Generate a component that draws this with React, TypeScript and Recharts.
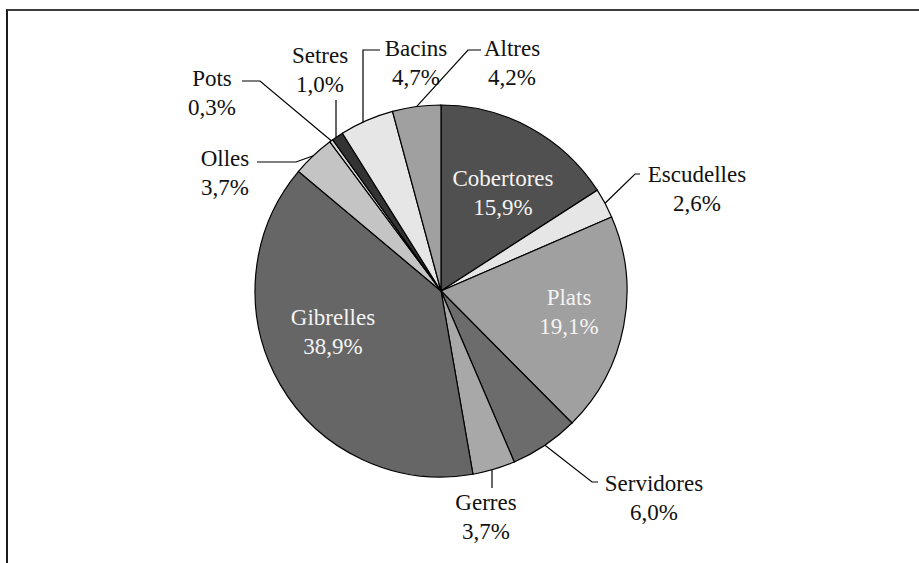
import { PieChart, Pie, Cell } from 'recharts';

const categories = ['Cobertores', 'Escudelles', 'Plats', 'Servidores', 'Gerres', 'Gibrelles', 'Olles', 'Pots', 'Setres', 'Bacins', 'Altres'];
const shares = [15.9, 2.6, 19.1, 6.0, 3.7, 38.9, 3.7, 0.3, 1.0, 4.7, 4.2];
const sliceColors = ['#505050', '#e6e6e6', '#a0a0a0', '#6c6c6c', '#a8a8a8', '#666666', '#c4c4c4', '#d8d8d8', '#333333', '#e6e6e6', '#a0a0a0'];

const data = categories.map((name, i) => ({ name, value: shares[i] }));

const RAD = Math.PI / 180;
const FONT = "'Liberation Serif', 'Times New Roman', serif";
const LINE_GAP = 29;

type Layout = {
  text: [number, number];
  path?: [number, number][];
  vertical?: boolean;
  inside?: boolean;
};

// label placement, relative to the pie centre
const labelLayout: Record<string, Layout> = {
  Cobertores: { text: [62, -105], inside: true },
  Plats: { text: [128, 14], inside: true },
  Gibrelles: { text: [-108, 34], inside: true },
  Escudelles: { text: [256, -109], path: [[194, -117], [199, -117]] },
  Servidores: { text: [213, 200], path: [[151, 191], [157, 191]] },
  Gerres: { text: [45, 219], path: [[51, 197]], vertical: true },
  Olles: { text: [-216, -125], path: [[-145, -129], [-184, -129]] },
  Pots: { text: [-229, -205], path: [[-181, -210], [-199, -210]] },
  Setres: { text: [-121, -228], path: [[-105, -191]], vertical: true },
  Bacins: { text: [-25, -235], path: [[-78, -241], [-61, -241]], vertical: true },
  Altres: { text: [71, -235], path: [[27, -241], [40, -241]] },
};

const fmt = (v: number) => v.toFixed(1).replace('.', ',') + '%';

function renderLabel(props: any) {
  const { cx, cy, midAngle, outerRadius, name, value } = props;
  const lay = labelLayout[name];
  if (!lay) return null;
  const tx = cx + lay.text[0];
  const ty = cy + lay.text[1];
  const color = lay.inside ? '#f4f4f4' : '#111';
  const textStyle = { fontFamily: FONT, fontSize: 23, fill: color };

  let line = null;
  if (lay.path) {
    let sx: number;
    let sy: number;
    if (lay.vertical) {
      const ex = lay.path[0][0];
      const h = Math.sqrt(outerRadius * outerRadius - ex * ex);
      sx = cx + ex;
      sy = cy + (lay.path[0][1] < 0 ? -h : h);
    } else {
      sx = cx + outerRadius * Math.cos(-midAngle * RAD);
      sy = cy + outerRadius * Math.sin(-midAngle * RAD);
    }
    const pts = [[sx, sy], ...lay.path.map(([px, py]) => [cx + px, cy + py])];
    line = <polyline points={pts.map((p) => p.join(',')).join(' ')} fill="none" stroke="#000" strokeWidth={1.2} />;
  }

  return (
    <g>
      {line}
      <text x={tx} y={ty} textAnchor="middle" style={textStyle}>
        {name}
      </text>
      <text x={tx} y={ty + LINE_GAP} textAnchor="middle" style={textStyle}>
        {fmt(value)}
      </text>
    </g>
  );
}

export default function App() {
  return (
    <div
      style={{
        position: 'absolute',
        left: 6,
        top: 9,
        width: 911,
        height: 552,
        borderTop: '2px solid #3c3c3c',
        borderLeft: '2px solid #1c1c1c',
        overflow: 'hidden',
        fontFamily: FONT,
      }}
    >
      <PieChart width={911} height={552} margin={{ top: 0, right: 0, bottom: 0, left: 0 }}>
        <Pie
          data={data}
          dataKey="value"
          nameKey="name"
          cx={433}
          cy={280}
          outerRadius={186}
          startAngle={90}
          endAngle={-270}
          stroke="#000"
          strokeWidth={1.2}
          label={renderLabel}
          labelLine={false}
          isAnimationActive={false}
        >
          {data.map((d, i) => (
            <Cell key={d.name} fill={sliceColors[i]} />
          ))}
        </Pie>
      </PieChart>
    </div>
  );
}
